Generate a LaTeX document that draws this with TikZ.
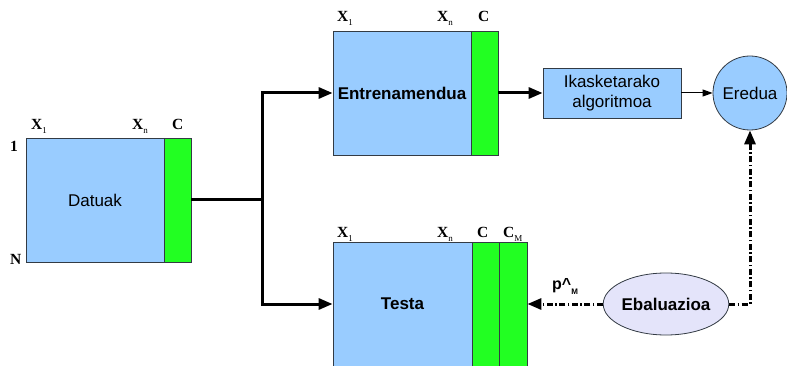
\documentclass[tikz,border=0pt]{standalone}
\usepackage{fontspec}
\setmainfont{Liberation Serif}
\setsansfont{Liberation Sans}
\usetikzlibrary{arrows.meta,shapes.geometric}
\definecolor{boxblue}{HTML}{99CCFF}
\definecolor{boxgreen}{HTML}{22FF22}
\definecolor{ellfill}{HTML}{E4E4FA}
\definecolor{edgecol}{HTML}{333B44}
\newcommand{\collab}[2]{\textbf{#1}\raisebox{-4pt}{\fontsize{9}{9}\selectfont #2}}
\begin{document}
\begin{tikzpicture}[x=1pt,y=-1pt,
  blk/.style={draw=edgecol, line width=0.8pt, fill=boxblue, rectangle, inner sep=0pt},
  grn/.style={draw=edgecol, line width=0.8pt, fill=boxgreen, rectangle, inner sep=0pt, minimum height=124pt},
  txt/.style={font=\sffamily\fontsize{17}{20}\selectfont, align=center},
  btxt/.style={font=\sffamily\bfseries\fontsize{17}{20}\selectfont},
  lbl/.style={font=\fontsize{15.5}{15.5}\selectfont, inner sep=0pt, anchor=base west},
  thk/.style={line width=3pt, -{Triangle[length=14pt,width=11pt]}},
  thn/.style={line width=1pt, -{Triangle[length=10pt,width=7pt]}},
  dd/.style={line width=3pt, dash pattern=on 6pt off 2.5pt on 1.5pt off 2.5pt, -{Triangle[length=14pt,width=11pt]}}
]
\useasboundingbox (0,0) rectangle (787,366);

% Datuak
\node[blk, minimum width=138pt, minimum height=124pt, txt] (dB) at (95,200) {Datuak};
\node[grn, minimum width=27pt] (dG) at (177.5,200) {};
\node[lbl] (dX1) at (31,130) {\collab{X}{1}};
\node[lbl] (dXn) at (132,130) {\collab{X}{n}};
\node[lbl] (dC) at (172,130) {\textbf{C}};
\node[lbl] (d1) at (10,152) {\textbf{1}};
\node[lbl] (dN) at (10,265) {\textbf{N}};

% Entrenamendua
\node[blk, minimum width=138pt, minimum height=124pt, btxt] (eB) at (402,93) {Entrenamendua};
\node[grn, minimum width=27pt] (eG) at (484.5,93) {};
\node[lbl] (eX1) at (337,22) {\collab{X}{1}};
\node[lbl] (eXn) at (437,22) {\collab{X}{n}};
\node[lbl] (eC) at (478,22) {\textbf{C}};

% Testa
\node[blk, minimum width=139pt, minimum height=124pt, btxt] (tB) at (402.5,304) {Testa};
\node[grn, minimum width=27pt] (tG1) at (485.5,304) {};
\node[grn, minimum width=28pt] (tG2) at (513,304) {};
\node[lbl] (tX1) at (337,237) {\collab{X}{1}};
\node[lbl] (tXn) at (437,237) {\collab{X}{n}};
\node[lbl] (tC) at (477,237) {\textbf{C}};
\node[lbl] (tCM) at (503,237) {\collab{C}{M}};

% Ikasketarako algoritmoa
\node[blk, minimum width=138pt, minimum height=50pt, txt] (ik) at (612,93) {Ikasketarako\\algoritmoa};

% Eredua
\node[draw=edgecol, line width=0.8pt, fill=boxblue, circle, minimum size=74pt, inner sep=0pt, txt] (er) at (750,93) {Eredua};

% Ebaluazioa
\node[draw=edgecol, line width=0.8pt, fill=ellfill, ellipse, minimum width=124pt, minimum height=62pt, inner sep=0pt, btxt] (eb) at (666,304) {Ebaluazioa};

% connectors
\coordinate (j) at (262,200);
\draw[line width=3pt] (dG.east) -- (j);
\draw[thk] (j) |- (eB.west);
\draw[thk] (j) |- (tB.west);
\draw[thk] (eG.east) -- (ik.west);
\draw[thn] (ik.east) -- (er.west);
\draw[dd] (eb.west) -- (tG2.east) node[midway, above=5pt, font=\sffamily\bfseries\fontsize{16}{16}\selectfont] (pm) {p\textasciicircum\raisebox{-5pt}{\fontsize{8}{8}\selectfont M}};
\draw[dd] (eb.east) -| (er.south);
\end{tikzpicture}
\end{document}
